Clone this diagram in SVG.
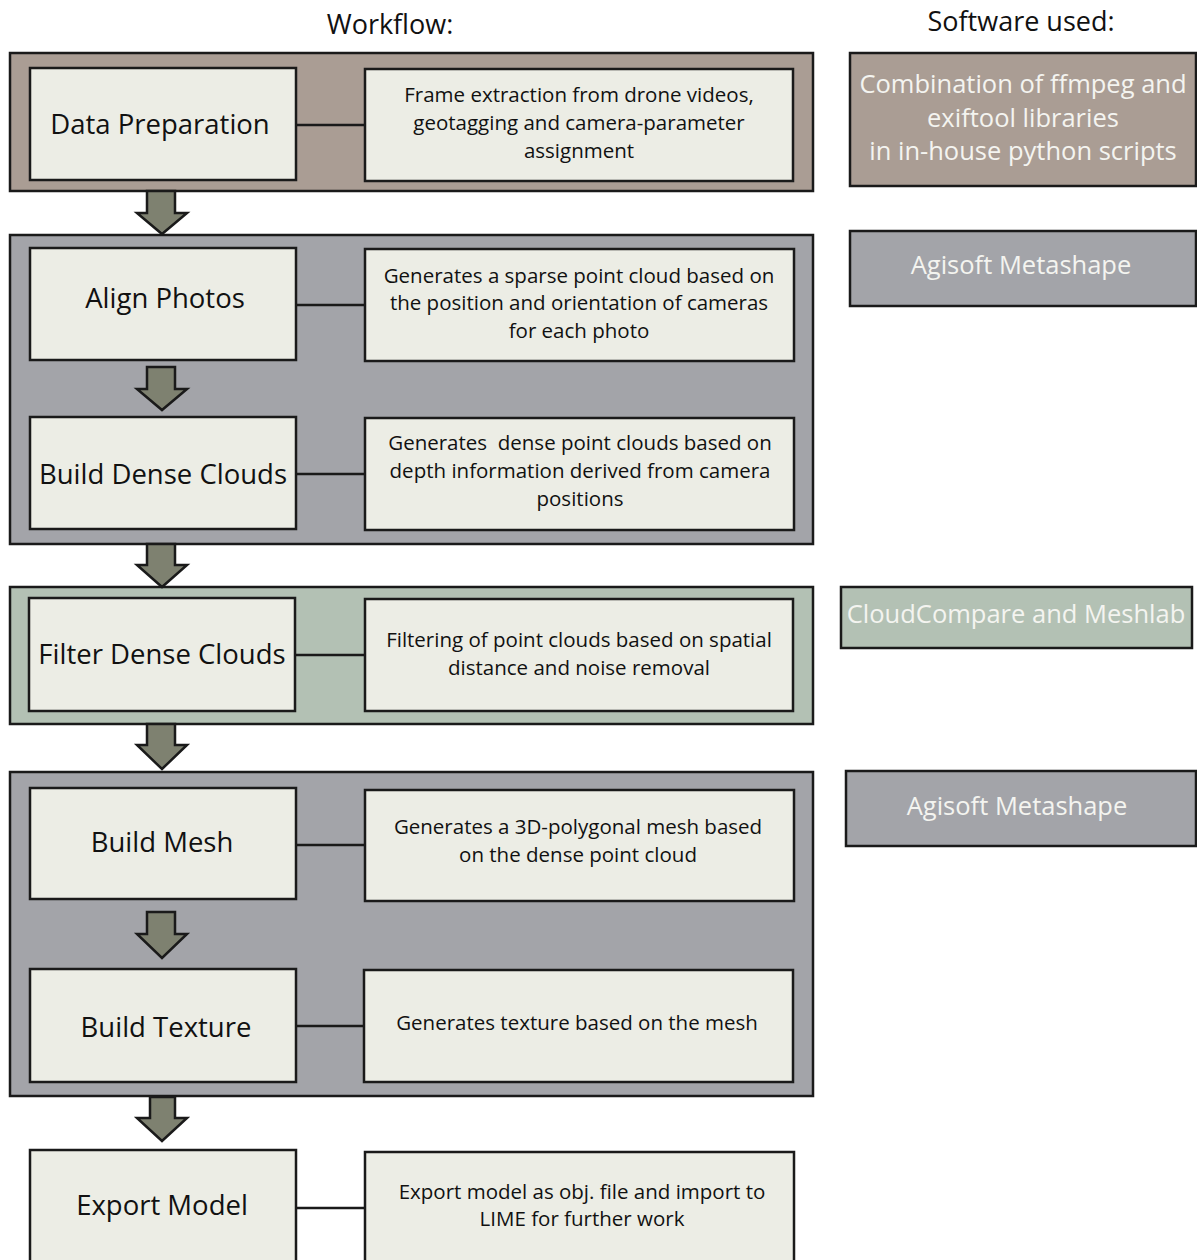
<svg xmlns="http://www.w3.org/2000/svg" width="1197" height="1260" viewBox="0 0 1197 1260">
<style>
.grp{stroke:#1a1a1a;stroke-width:2.5}
.brown{fill:#aa9d94}
.gray{fill:#a3a4a9}
.green{fill:#b3c1b4}
.box{fill:#ecede5;stroke:#1a1a1a;stroke-width:2.5}
.arr{fill:#7e8170;stroke:#1a1a1a;stroke-width:2.5;stroke-linejoin:miter}
.ln{stroke:#1a1a1a;stroke-width:2.5;fill:none}
.t{font-family:"Open Sans","Noto Sans",sans-serif;fill:#111111;text-anchor:middle}
.title{font-size:27.5px}
.desc{font-size:20.5px}
.sw{font-family:"Open Sans","Noto Sans",sans-serif;fill:#f4f4f0;text-anchor:middle;font-size:25.5px}
.hd{font-size:27px}
</style>
<rect width="1197" height="1260" fill="#ffffff"/>
<g id="headers">
<text class="t hd" x="390" y="34">Workflow:</text>
<text class="t hd" x="1021" y="31">Software used:</text>
</g>
<g id="group-data-preparation">
<rect class="grp brown" x="10" y="53" width="803" height="138"/>
</g>
<g id="group-metashape-1">
<rect class="grp gray" x="10" y="235" width="803" height="309"/>
</g>
<g id="group-filter">
<rect class="grp green" x="10" y="587" width="803" height="137"/>
</g>
<g id="group-metashape-2">
<rect class="grp gray" x="10" y="772" width="803" height="324"/>
</g>
<g id="connectors">
<line class="ln" x1="296" y1="125" x2="365" y2="125"/>
<line class="ln" x1="296" y1="305" x2="365" y2="305"/>
<line class="ln" x1="296" y1="474" x2="365" y2="474"/>
<line class="ln" x1="296" y1="655" x2="365" y2="655"/>
<line class="ln" x1="296" y1="845" x2="365" y2="845"/>
<line class="ln" x1="296" y1="1026" x2="365" y2="1026"/>
<line class="ln" x1="296" y1="1208" x2="365" y2="1208"/>
<path class="arr" d="M147,191 L175,191 L175,213 L187,213 L162,234 L137,213 L147,213 Z"/>
<path class="arr" d="M147,367 L175,367 L175,389 L187,389 L162,410 L137,389 L147,389 Z"/>
<path class="arr" d="M147,544 L175,544 L175,565 L187,565 L162,587 L137,565 L147,565 Z"/>
<path class="arr" d="M147,724 L175,724 L175,745 L187,745 L162,769 L137,745 L147,745 Z"/>
<path class="arr" d="M147,912 L175,912 L175,934 L187,934 L162,958 L137,934 L147,934 Z"/>
<path class="arr" d="M150,1097 L175,1097 L175,1118 L187,1118 L162,1141 L137,1118 L150,1118 Z"/>
</g>
<g id="node-data-preparation">
<rect class="box" x="30" y="68" width="266" height="112"/>
<text class="t title" x="160" y="134">Data Preparation</text>
</g>
<g id="desc-data-preparation">
<rect class="box" x="365" y="69" width="428" height="112"/>
<text class="t desc" x="579" y="102">Frame extraction from drone videos,</text>
<text class="t desc" x="579" y="130">geotagging and camera-parameter</text>
<text class="t desc" x="579" y="158">assignment</text>
</g>
<g id="node-align-photos">
<rect class="box" x="30" y="248" width="266" height="112"/>
<text class="t title" x="165" y="308">Align Photos</text>
</g>
<g id="desc-align-photos">
<rect class="box" x="365" y="249" width="429" height="112"/>
<text class="t desc" x="579" y="283">Generates a sparse point cloud based on</text>
<text class="t desc" x="579" y="310">the position and orientation of cameras</text>
<text class="t desc" x="579" y="338">for each photo</text>
</g>
<g id="node-build-dense-clouds">
<rect class="box" x="30" y="417" width="266" height="112"/>
<text class="t title" x="163" y="484">Build Dense Clouds</text>
</g>
<g id="desc-build-dense-clouds">
<rect class="box" x="365" y="418" width="429" height="112"/>
<text class="t desc" x="580" y="450" xml:space="preserve">Generates  dense point clouds based on</text>
<text class="t desc" x="580" y="478">depth information derived from camera</text>
<text class="t desc" x="580" y="506">positions</text>
</g>
<g id="node-filter-dense-clouds">
<rect class="box" x="29" y="598" width="266" height="113"/>
<text class="t title" x="162" y="664">Filter Dense Clouds</text>
</g>
<g id="desc-filter-dense-clouds">
<rect class="box" x="365" y="599" width="428" height="112"/>
<text class="t desc" x="579" y="647">Filtering of point clouds based on spatial</text>
<text class="t desc" x="579" y="675">distance and noise removal</text>
</g>
<g id="node-build-mesh">
<rect class="box" x="30" y="788" width="266" height="111"/>
<text class="t title" x="162" y="852">Build Mesh</text>
</g>
<g id="desc-build-mesh">
<rect class="box" x="365" y="790" width="429" height="111"/>
<text class="t desc" x="578" y="834">Generates a 3D-polygonal mesh based</text>
<text class="t desc" x="578" y="862">on the dense point cloud</text>
</g>
<g id="node-build-texture">
<rect class="box" x="30" y="969" width="266" height="113"/>
<text class="t title" x="166" y="1037">Build Texture</text>
</g>
<g id="desc-build-texture">
<rect class="box" x="364" y="970" width="429" height="112"/>
<text class="t desc" x="577" y="1030">Generates texture based on the mesh</text>
</g>
<g id="node-export-model">
<rect class="box" x="30" y="1150" width="266" height="120"/>
<text class="t title" x="162" y="1215">Export Model</text>
</g>
<g id="desc-export-model">
<rect class="box" x="365" y="1152" width="429" height="118"/>
<text class="t desc" x="582" y="1199">Export model as obj. file and import to</text>
<text class="t desc" x="582" y="1226">LIME for further work</text>
</g>
<g id="sw-ffmpeg">
<rect class="grp brown" x="850" y="53" width="346" height="133"/>
<text class="sw" x="1023" y="93">Combination of ffmpeg and</text>
<text class="sw" x="1023" y="127">exiftool libraries</text>
<text class="sw" x="1023" y="160">in in-house python scripts</text>
</g>
<g id="sw-metashape-1">
<rect class="grp gray" x="850" y="231" width="346" height="75"/>
<text class="sw" x="1021" y="274">Agisoft Metashape</text>
</g>
<g id="sw-cloudcompare">
<rect class="grp green" x="841" y="587" width="351" height="61"/>
<text class="sw" x="1016" y="623">CloudCompare and Meshlab</text>
</g>
<g id="sw-metashape-2">
<rect class="grp gray" x="846" y="771" width="350" height="75"/>
<text class="sw" x="1017" y="815">Agisoft Metashape</text>
</g>
</svg>
